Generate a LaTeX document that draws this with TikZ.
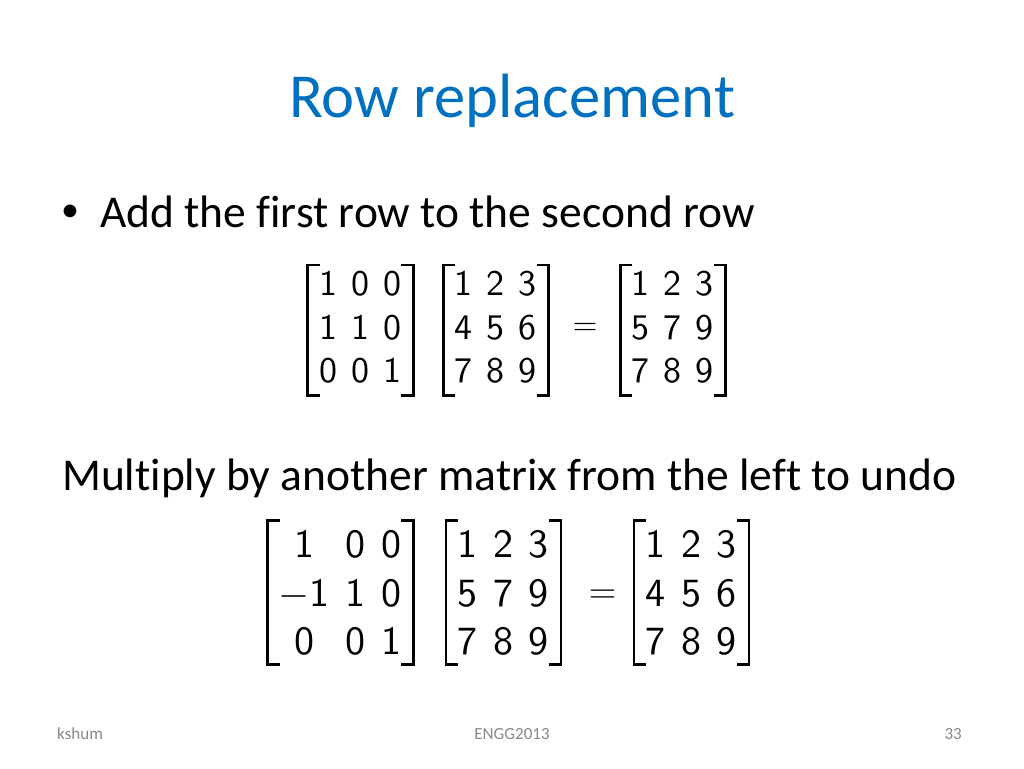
\RequirePackage{fix-cm}
\documentclass[tikz,border=0pt]{standalone}
\usepackage{fontspec}
\setmainfont{Carlito}[Ligatures={NoCommon}]
\newfontfamily\matfont{lmsans10-regular.otf}
\usepackage{tikz}
\usetikzlibrary{matrix}
\definecolor{TitleBlue}{RGB}{0,112,192}
\definecolor{FootGray}{RGB}{137,137,137}

% square brackets round a matrix node: #2 = top shift, #3 = bottom shift
\newcommand\matbrackets[3]{%
    \draw[brk] ([shift={(1,#2)}]#1.north west) -- ++(-12,0) |- ([shift={(1,#3)}]#1.south west);
    \draw[brk] ([shift={(0,#2)}]#1.north east) -- ++(12,0) |- ([shift={(0,#3)}]#1.south east);}

\begin{document}
\begin{tikzpicture}[x=1pt, y=-1pt,
    title/.style={anchor=base, inner sep=0pt, text=TitleBlue, font=\fontsize{62.6}{70}\selectfont},
    body/.style={anchor=base, inner sep=0pt, font=\fontsize{45.5}{52}\selectfont},
    foot/.style={anchor=base, inner sep=0pt, text=FootGray, font=\fontsize{17}{20}\selectfont},
    mat/.style 2 args={matrix of nodes, inner sep=0pt, row sep=0pt,
      column sep={0.7356*#2pt-0.5*#1pt},
      font=\fontsize{#1}{#1}\selectfont,
      nodes={inner sep=0pt, minimum height={#2pt}, text height={0.65*#1pt}, text depth=0pt,
        font=\fontsize{#1}{#1}\selectfont\matfont}},
    brk/.style={line width=2.7pt, line cap=butt, line join=miter},
    eq/.style={inner sep=0pt, font=\fontsize{#1}{#1}\selectfont}]
    \fill[white] (0,0) rectangle (1024,768);
    \useasboundingbox (0,0) rectangle (1024,768);

    \node[title] (title) at (512,117) {Row replacement};
    \node[body, font=\fontsize{36}{40}\selectfont] (bullet) at (70,221) {\textbullet};
    \node[body, anchor=base west] (add) at (100,227) {Add the first row to the second row};

    \matrix[mat={36}{43.5}] (A1) at (360,327.5) {1 & 0 & 0\\ 1 & 1 & 0\\ 0 & 0 & 1\\};
    \matrix[mat={36}{43.5}] (B1) at (495.5,327.5) {1 & 2 & 3\\ 4 & 5 & 6\\ 7 & 8 & 9\\};
    \node[eq=34] (eq1) at (585,329) {$=$};
    \matrix[mat={36}{43.5}] (C1) at (672.5,327.5) {1 & 2 & 3\\ 5 & 7 & 9\\ 7 & 8 & 9\\};
    \matbrackets{A1}{3}{2.5}
    \matbrackets{B1}{3}{2.5}
    \matbrackets{C1}{3}{2.5}

    \node[body, anchor=base west] (undo) at (62,490) {Multiply by another matrix from the left to undo};

    \matrix[mat={40}{48.5}] (A2) at (340,593) {1 & 0 & 0\\ $-$1 & 1 & 0\\ 0 & 0 & 1\\};
    \matrix[mat={40}{48.5}] (B2) at (503,593) {1 & 2 & 3\\ 5 & 7 & 9\\ 7 & 8 & 9\\};
    \node[eq=38] (eq2) at (602.5,597) {$=$};
    \matrix[mat={40}{48.5}] (C2) at (691,593) {1 & 2 & 3\\ 4 & 5 & 6\\ 7 & 8 & 9\\};
    \matbrackets{A2}{0.5}{-1.5}
    \matbrackets{B2}{0.5}{-1.5}
    \matbrackets{C2}{0.5}{-1.5}

    \node[foot, anchor=base west] (author) at (57,739) {kshum};
    \node[foot] (course) at (512,739) {ENGG2013};
    \node[foot, anchor=base east] (page) at (962,739) {33};
\end{tikzpicture}
\end{document}
